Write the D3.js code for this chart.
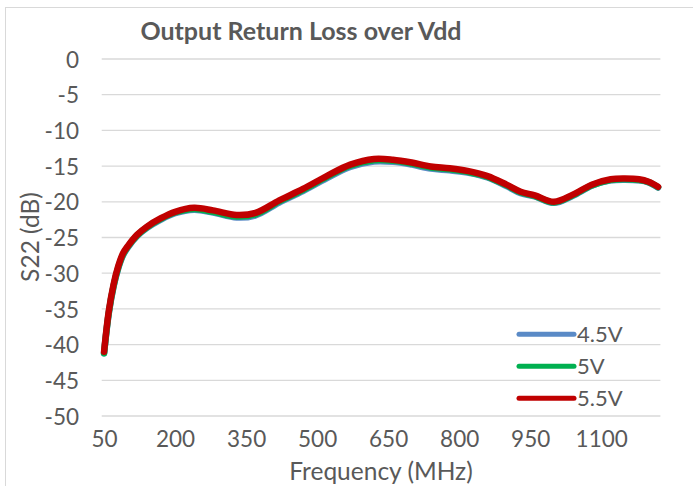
<!DOCTYPE html>
<html>
<head>
<meta charset="utf-8">
<script src="https://cdn.jsdelivr.net/npm/d3@7"></script>
<style>
  body { margin: 0; background: #fff; }
  text { font-family: Lato, "Liberation Sans", sans-serif; fill: #595959; }
  .grid line { stroke: #d9d9d9; stroke-width: 1.3px; }
  .line { fill: none; stroke-width: 6.5px; stroke-linecap: round; stroke-linejoin: round; }
</style>
</head>
<body>
<script>
// frequency points (MHz)
var freqs = [50, 60, 70, 80, 90, 100, 120, 140, 170, 200, 240, 280, 330, 370, 420, 470, 520, 570,
  620, 660, 700, 740, 780, 820, 860, 900, 930, 960, 1000, 1040, 1080, 1120, 1150, 1180, 1200, 1220];

// S22 (dB) per supply voltage
var s22_45 = [-41.2, -35.6, -31.9, -29.3, -27.5, -26.4, -24.8, -23.7, -22.5, -21.6, -21.1, -21.5, -22.2, -21.9,
  -20.1, -18.5, -16.7, -15.1, -14.35, -14.4, -14.8, -15.35, -15.6, -15.95, -16.6, -17.8, -18.8, -19.25,
  -20.15, -19.15, -17.75, -17.0, -16.9, -17.0, -17.3, -18.0];
var s22_5 = [-41.2, -35.5, -31.8, -29.2, -27.4, -26.3, -24.7, -23.6, -22.4, -21.5, -21.0, -21.4, -22.05, -21.75,
  -19.95, -18.35, -16.55, -14.95, -14.2, -14.25, -14.65, -15.2, -15.45, -15.85, -16.5, -17.7, -18.7, -19.2,
  -20.1, -19.1, -17.7, -16.95, -16.85, -16.95, -17.25, -17.95];
var s22_55 = [-41.0, -35.3, -31.6, -29.0, -27.2, -26.2, -24.6, -23.5, -22.3, -21.4, -20.85, -21.2, -21.85, -21.55,
  -19.8, -18.2, -16.4, -14.8, -14.0, -14.1, -14.5, -15.05, -15.3, -15.7, -16.4, -17.6, -18.6, -19.1,
  -20.0, -19.0, -17.6, -16.85, -16.75, -16.85, -17.2, -17.9];

var seriesNames = ["4.5V", "5V", "5.5V"];
var seriesColors = ["#5a8ac6", "#00b050", "#c00000"];
var xTicks = [50, 200, 350, 500, 650, 800, 950, 1100];
var yTicks = [0, -5, -10, -15, -20, -25, -30, -35, -40, -45, -50];

var W = 693, H = 486;
var plot = {left: 101.7, right: 660.4, top: 59, bottom: 416};

var svg = d3.select("body").append("svg")
  .attr("width", W)
  .attr("height", H);

// chart border
svg.append("rect")
  .attr("x", 5.5).attr("y", 7.5)
  .attr("width", 720).attr("height", 520)
  .attr("fill", "none")
  .attr("stroke", "#d9d9d9");

var x = d3.scaleLinear().domain([45, 1225]).range([plot.left, plot.right]);
var y = d3.scaleLinear().domain([-50, 0]).range([plot.bottom, plot.top]);

// horizontal gridlines
svg.append("g")
  .attr("class", "grid")
  .selectAll("line")
  .data(yTicks)
  .enter().append("line")
  .attr("x1", plot.left).attr("x2", plot.right)
  .attr("y1", function(d) { return y(d); })
  .attr("y2", function(d) { return y(d); });

// y tick labels (plain hyphen like excel)
var yAxis = d3.axisLeft(y).tickValues(yTicks).tickSize(0).tickPadding(0)
  .tickFormat(function(d) { return String(d); });
var gy = svg.append("g")
  .attr("transform", "translate(79,0)")
  .call(yAxis);
gy.select(".domain").remove();
gy.selectAll("text").style("font-size", "22.5px").attr("dy", "0.36em");

// x tick labels
var xAxis = d3.axisBottom(x).tickValues(xTicks).tickSize(0).tickPadding(0)
  .tickFormat(function(d) { return String(d); });
var gx = svg.append("g")
  .attr("transform", "translate(0,430)")
  .call(xAxis);
gx.select(".domain").remove();
gx.selectAll("text").style("font-size", "22.5px").attr("dy", "0.75em");

// title and axis labels
svg.append("text")
  .attr("x", 301).attr("y", 40)
  .attr("text-anchor", "middle")
  .style("font-size", "25px")
  .style("font-weight", "bold")
  .text("Output Return Loss over Vdd");

svg.append("text")
  .attr("x", 381).attr("y", 480)
  .attr("text-anchor", "middle")
  .style("font-size", "24.5px")
  .text("Frequency (MHz)");

svg.append("text")
  .attr("transform", "translate(39,237) rotate(-90)")
  .attr("text-anchor", "middle")
  .style("font-size", "24.5px")
  .text("S22 (dB)");

// series lines
var valueline = d3.line()
  .x(function(d) { return x(d[0]); })
  .y(function(d) { return y(d[1]); })
  .curve(d3.curveCatmullRom.alpha(0.5));

var allSeries = [s22_45, s22_5, s22_55];
allSeries.forEach(function(vals, i) {
  var pts = freqs.map(function(f, j) { return [f, vals[j]]; });
  svg.append("path")
    .datum(pts)
    .attr("class", "line")
    .attr("stroke", seriesColors[i])
    .attr("d", valueline);
});

// legend
var legend = svg.selectAll(".legend")
  .data(seriesNames)
  .enter().append("g")
  .attr("class", "legend")
  .attr("transform", function(d, i) { return "translate(519," + (334.3 + i * 32) + ")"; });

legend.append("line")
  .attr("x1", 0).attr("x2", 55)
  .attr("stroke", function(d, i) { return seriesColors[i]; })
  .attr("stroke-width", 5)
  .attr("stroke-linecap", "round");

legend.append("text")
  .attr("x", 58)
  .attr("dy", "0.36em")
  .style("font-size", "22px")
  .text(function(d) { return d; });
</script>
</body>
</html>
